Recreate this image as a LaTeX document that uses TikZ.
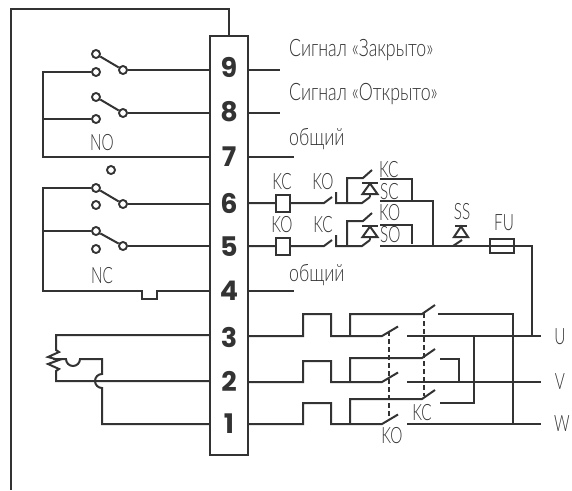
\documentclass[tikz,border=0pt]{standalone}
\usepackage{fontspec}
\setmainfont{Lato Light}[FakeStretch=0.68]
\newfontfamily\cyrfont{Lato Light}[FakeStretch=0.74]
\newfontfamily\numfont{Poppins}[BoldFont=Poppins Bold]
\definecolor{ink}{HTML}{333333}
\tikzset{
  wire/.style={draw=ink,line width=2pt},
  contact/.style={circle,draw=ink,fill=white,line width=1.9pt,inner sep=0pt,minimum size=8pt},
  lbl/.style={text=ink,inner sep=0pt,font=\fontsize{22.5}{24}\selectfont},
  sig/.style={text=ink,inner sep=0pt,anchor=west,font=\cyrfont\fontsize{24}{25}\selectfont},
  num/.style={text=ink,inner sep=0pt,font=\numfont\bfseries\fontsize{27}{27}\selectfont},
  coil/.style={rectangle,draw=ink,fill=white,line width=2pt,inner sep=0pt}
}
\begin{document}
\begin{tikzpicture}[x=1pt,y=-1pt]
  \useasboundingbox (0,0) rectangle (572,490);
  \node[coil,minimum width=38pt,minimum height=419pt] (strip) at (229,245.5) {};
  \coordinate (strip top) at (229,36);
  \coordinate (frame end) at (11,490);
  \draw[wire] (strip top) -- (229,9) -- (11,9) -- (frame end);
  \foreach \n/\y in {9/67,8/112,7/157,6/203,5/247,4/291,3/337,2/381,1/424}
    \node[num] (num\n) at (229,\y) {\n};
  % contacts on the left
  \foreach \n/\a/\b/\c in {9/54/72/70,8/97/119/113,6/188/205/204,5/231/249/246} {
    \node[contact] (top\n) at (96,\a) {};
    \node[contact] (bot\n) at (96,\b) {};
    \node[contact] (com\n) at (123,\c) {};
    \draw[wire] (top\n) -- (com\n);
    \draw[wire] (com\n) -- (210,\c);
  }
  \node[contact] (spare) at (111,170) {};
  \draw[wire] (bot9) -- (43,72) -- (43,157) -- (210,157);
  \draw[wire] (43,119) -- (bot8);
  \draw[wire] (top6) -- (43,188) -- (43,291) -- (142,291) -- (142,299) -- (157,299) -- (157,291) -- (210,291);
  \draw[wire] (43,231) -- (top5);
  \node[lbl] (no) at (102,143) {NO};
  \node[lbl] (nc) at (102,276) {NC};
  % potentiometer
  \draw[wire] (210,335) -- (56,335) -- (56,350) -- (59,352) -- (48,357) -- (59,360) -- (48,364) -- (59,369) -- (56,371) -- (56,381) -- (210,381);
  \draw[wire] (53,359) -- (66,359) arc[start angle=180,end angle=0,radius=7,y=-1pt] -- (102,359) -- (102,374) arc[start angle=-90,end angle=-270,radius=7,y=-1pt] -- (102,424) -- (210,424);
  % right stubs
  \draw[wire] (248,70) -- (280,70);
  \draw[wire] (248,113) -- (280,113);
  \draw[wire] (248,157) -- (294,157);
  \draw[wire] (248,291) -- (294,291);
  \node[sig] (sigc) at (289,50) {Сигнал «Закрыто»};
  \node[sig] (sigo) at (289,94) {Сигнал «Открыто»};
  \node[sig] (comA) at (289,139) {общий};
  \node[sig] (comB) at (289,275) {общий};
  % control chain
  \foreach \n/\y/\p/\q/\m/\o/\s in {c/203/KC/KO/KC/SC/179,o/246/KO/KC/KO/SO/225} {
    \node[coil,minimum width=14pt,minimum height=17pt] (coil\n) at (283,\y) {};
    \node[lbl] (lcoil\n) at (282,\y-21) {\p};
    \node[lbl] (lint\n) at (323,\y-21) {\q};
    \node[lbl,anchor=west] (lhold\n) at (379,\y-33) {\m};
    \node[lbl,anchor=west] (lstop\n) at (380,\y-11.5) {\o};
    \draw[wire] (248,\y) -- (coil\n) -- (324,\y) -- (332,\y-6);
    \draw[wire] (336,\y-11) -- (336,\y) -- (362,\y) -- (370,\y-6);
    \draw[wire] (347,\y) -- (347,\y-25) -- (363,\y-25) -- (372,\y-33);
    \draw[wire,fill=white] (370,\y-9) -- (362.5,\y-9) -- (370,\y-19.5) -- (377.5,\y-9) -- cycle;
    \draw[wire] (362,\y-20.5) -- (378,\y-20.5);
    \draw[wire] (370,\y-9) -- (370,\y-6);
    \draw[wire] (380,\s) -- (412,\s) -- (412,\y-2);
  }
  \draw[wire] (380,201) -- (433,201) -- (433,246);
  \node[coil,minimum width=24pt,minimum height=14pt] (fuse) at (502,246) {};
  \coordinate (ucon) at (532,335);
  \draw[wire] (380,246) -- (fuse.west) -- (fuse.east) -- (532,246) -- (ucon);
  \draw[wire] (453,246) -- (462,240);
  \draw[wire,fill=white] (461,237) -- (454,237) -- (461,226.5) -- (468,237) -- cycle;
  \draw[wire] (455,225.5) -- (467,225.5);
  \node[lbl] (lss) at (462,212) {SS};
  \node[lbl] (lfu) at (504,223) {FU};
  % power
  \foreach \n/\y/\h/\t in {u/336/314/314,v/382/361/358,w/424/403/399} {
    \draw[wire] (248,\y) -- (303,\y) -- (303,\h) -- (331,\h) -- (331,\y) -- (382,\y) -- (398,\y-9.5);
    \draw[wire] (350,\y) -- (350,\t) -- (422,\t) -- (435,\t-9);
    \draw[wire] (407,\y) -- (541,\y);
  }
  \draw[wire] (438,314) -- (513,314) -- (513,424);
  \draw[wire] (440,359) -- (459,359) -- (459,382);
  \draw[wire] (440,403) -- (474,403) -- (474,336);
  \draw[wire,dash pattern=on 5pt off 3pt] (389,331) -- (389,418);
  \draw[wire,dash pattern=on 5pt off 3pt] (424,313) -- (424,396);
  \node[lbl] (lkc) at (422,413) {KC};
  \node[lbl] (lko) at (392,436) {KO};
  \node[lbl] (lu) at (560,337) {U};
  \node[lbl] (lv) at (560,382) {V};
  \node[lbl] (lw) at (562,424) {W};
\end{tikzpicture}
\end{document}
